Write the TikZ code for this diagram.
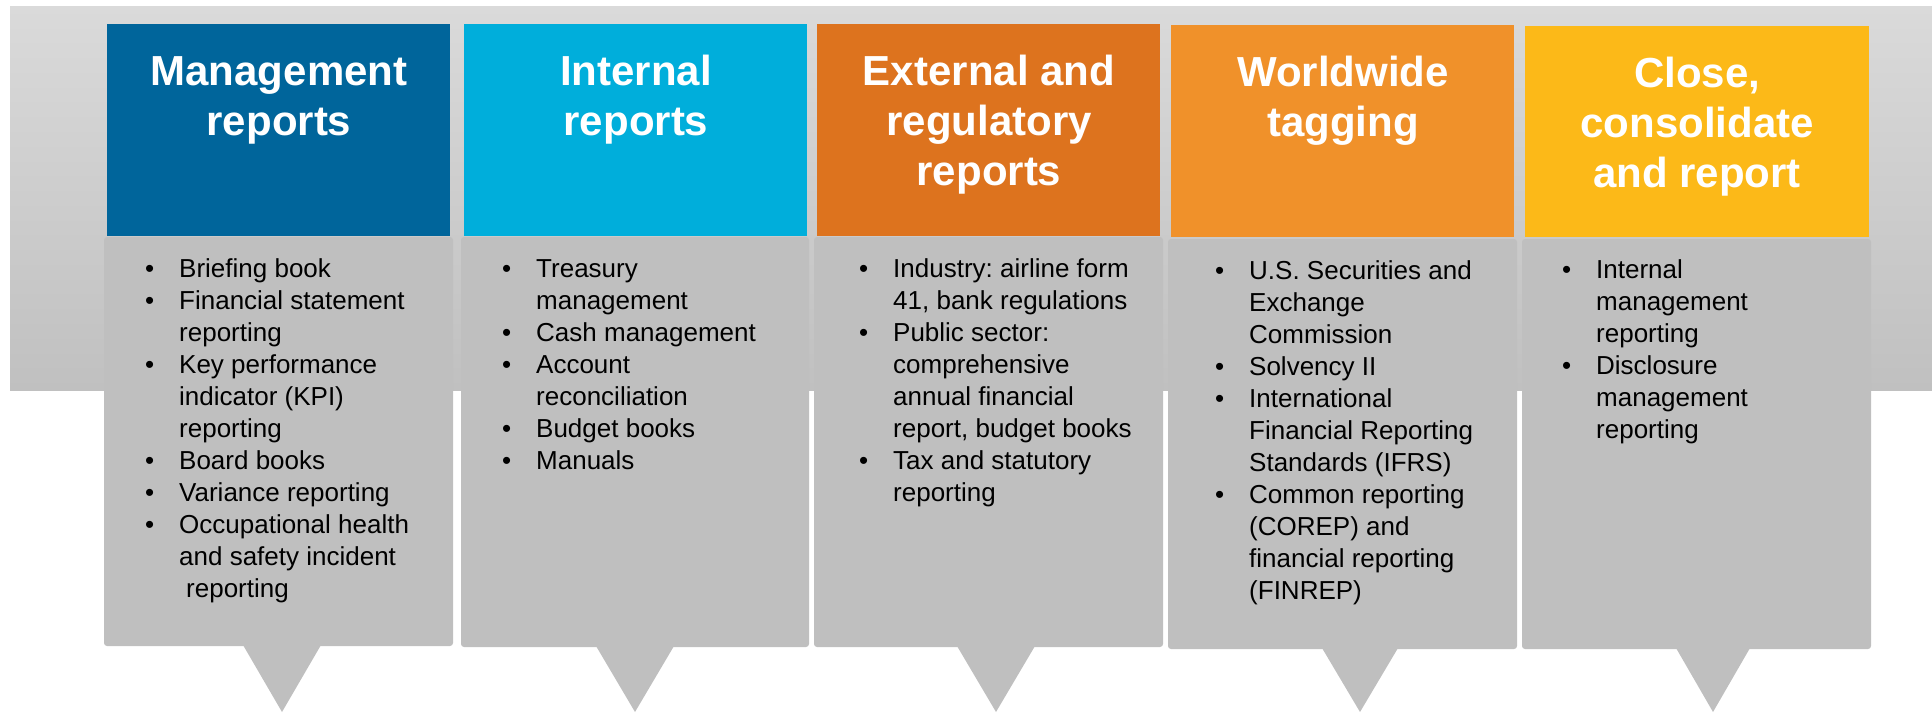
\documentclass[tikz,border=0pt]{standalone}
\usepackage{fontspec}
\setmainfont{Liberation Sans}
\frenchspacing
\definecolor{mgmtblue}{RGB}{0,101,155}
\definecolor{intcyan}{RGB}{0,174,219}
\definecolor{extorange}{RGB}{221,115,30}
\definecolor{wworange}{RGB}{240,145,42}
\definecolor{closeyellow}{RGB}{252,185,24}
\definecolor{cardgray}{RGB}{191,191,191}
\definecolor{bandtop}{RGB}{218,218,218}
\definecolor{bandbot}{RGB}{192,192,192}
% bullet hung in the left margin of an item
\newcommand\itembul{\llap{\makebox[34pt][l]{\textbullet}}}
% top-aligned line stacks, so a node's base anchor is its first baseline
\newcommand\headlines[1]{\begin{tabular}[t]{@{}c@{}}#1\end{tabular}}
\newcommand\bodylines[1]{\begin{tabular}[t]{@{}l@{}}#1\end{tabular}}
\begin{document}
\begin{tikzpicture}[x=1pt,y=-1pt,
  headbox/.style={draw=none, minimum width=343pt, minimum height=212pt,
    anchor=north west, inner sep=0pt},
  headtext/.style={text=white, anchor=base, inner sep=0pt,
    font=\fontsize{42}{50}\selectfont\bfseries},
  bodytext/.style={text=black, anchor=base west, inner sep=0pt,
    font=\fontsize{26}{32}\selectfont},
  card/.style={fill=cardgray, rounded corners=3pt},
  pointer/.style={fill=cardgray}
]
\useasboundingbox (0,0) rectangle (1932,712);

% shaded backdrop band
\shade[top color=bandtop, bottom color=bandbot] (10,6) rectangle (1932,390);

% grey cards with their downward pointers
\fill[card] (104,237) rectangle (453,646);
\fill[pointer] (243,645) -- (321,645) -- (282,712) -- cycle;
\fill[card] (461,237) rectangle (809,647);
\fill[pointer] (596,646) -- (674,646) -- (635,712) -- cycle;
\fill[card] (814,237) rectangle (1163,647);
\fill[pointer] (957,646) -- (1035,646) -- (996,712) -- cycle;
\fill[card] (1168,239) rectangle (1517,649);
\fill[pointer] (1322,648) -- (1398,648) -- (1360,712) -- cycle;
\fill[card] (1522,239) rectangle (1871,649);
\fill[pointer] (1676,648) -- (1750,648) -- (1713,712) -- cycle;

% coloured headers
\node[headbox, fill=mgmtblue] (h1) at (107,24) {};
\node[headbox, fill=intcyan] (h2) at (464,24) {};
\node[headbox, fill=extorange] (h3) at (817,24) {};
\node[headbox, fill=wworange] (h4) at (1171,25) {};
\node[headbox, fill=closeyellow, minimum width=344pt, minimum height=211pt] (h5) at (1525,26) {};

\node[headtext] (t1) at (279,85) {\headlines{Management\\reports}};
\node[headtext] (t2) at (636,85) {\headlines{Internal\\reports}};
\node[headtext] (t3) at (989,85) {\headlines{External and\\regulatory\\reports}};
\node[headtext] (t4) at (1343,86) {\headlines{Worldwide\\tagging}};
\node[headtext] (t5) at (1697,87) {\headlines{Close,\\consolidate\\and report}};

% bullet lists
\node[bodytext] (b1) at (179,277) {\bodylines{%
\itembul Briefing book\\
\itembul Financial statement\\
reporting\\
\itembul Key performance\\
indicator (KPI)\\
reporting\\
\itembul Board books\\
\itembul Variance reporting\\
\itembul Occupational health\\
and safety incident\\
\hspace*{7pt}reporting}};

\node[bodytext] (b2) at (536,277) {\bodylines{%
\itembul Treasury\\
management\\
\itembul Cash management\\
\itembul Account\\
reconciliation\\
\itembul Budget books\\
\itembul Manuals}};

\node[bodytext] (b3) at (893,277) {\bodylines{%
\itembul Industry: airline form\\
41, bank regulations\\
\itembul Public sector:\\
comprehensive\\
annual financial\\
report, budget books\\
\itembul Tax and statutory\\
reporting}};

\node[bodytext] (b4) at (1249,279) {\bodylines{%
\itembul U.S. Securities and\\
Exchange\\
Commission\\
\itembul Solvency II\\
\itembul International\\
Financial Reporting\\
Standards (IFRS)\\
\itembul Common reporting\\
(COREP) and\\
financial reporting\\
(FINREP)}};

\node[bodytext] (b5) at (1596,278) {\bodylines{%
\itembul Internal\\
management\\
reporting\\
\itembul Disclosure\\
management\\
reporting}};
\end{tikzpicture}
\end{document}
